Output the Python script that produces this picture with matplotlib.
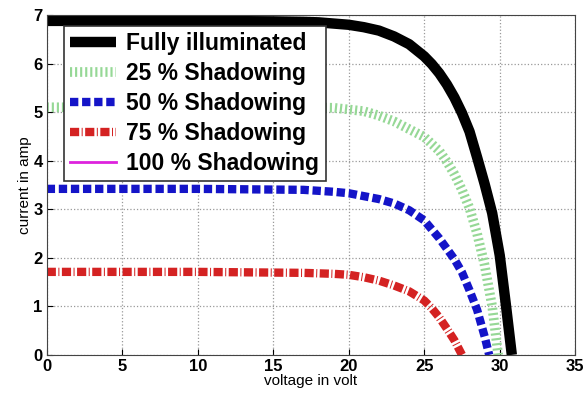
import matplotlib.pyplot as plt

plt.rcParams['font.family'] = ['Liberation Sans', 'DejaVu Sans']

# I-V curves
v_full = [0, 5, 10, 15, 17, 18, 20, 21, 22, 23, 24, 25, 25.5, 26, 26.5, 27, 27.5, 28, 28.5,
          29, 29.5, 30, 30.4, 30.8]
i_full = [6.88, 6.88, 6.88, 6.87, 6.86, 6.85, 6.8, 6.75, 6.68, 6.56, 6.4, 6.15, 5.99, 5.8,
          5.57, 5.3, 4.98, 4.6, 4.07, 3.52, 2.92, 2.05, 1.05, 0.0]

v_25 = [0, 10, 17, 19, 21, 22, 23, 24, 25, 26, 26.5, 27, 27.5, 28, 28.5, 29, 29.5, 29.9]
i_25 = [5.1, 5.1, 5.1, 5.09, 5.02, 4.93, 4.81, 4.65, 4.49, 4.2, 3.98, 3.72, 3.4, 3.02, 2.5,
        1.85, 1.0, 0.0]

v_50 = [0, 10, 17, 19, 20, 21, 22, 23, 24, 25, 26, 27, 27.5, 28, 28.5, 29, 29.3]
i_50 = [3.42, 3.42, 3.4, 3.36, 3.33, 3.27, 3.21, 3.12, 2.98, 2.77, 2.4, 1.97, 1.7, 1.33, 0.93,
        0.38, 0.0]

v_75 = [0, 10, 17, 19, 20, 21, 22, 23, 24, 25, 25.5, 26, 26.5, 27, 27.5]
i_75 = [1.71, 1.71, 1.69, 1.67, 1.65, 1.6, 1.53, 1.43, 1.31, 1.12, 0.96, 0.77, 0.54, 0.3, 0.0]

# 100 % shadowing gives no visible curve
v_100 = []
i_100 = []

fig, ax = plt.subplots(figsize=(5.84, 4.07), dpi=100)
fig.subplots_adjust(left=0.08, right=0.985, top=0.963, bottom=0.128)

ax.plot(v_full, i_full, color='black', lw=7.5, solid_capstyle='butt', label='Fully illuminated')
ax.plot(v_25, i_25, color='#96d896', lw=7, linestyle=(0, (0.22, 0.3)), dash_capstyle='butt',
        label='25 % Shadowing')
ax.plot(v_50, i_50, color='#1414c8', lw=6, linestyle=(0, (1, 0.45)), dash_capstyle='butt',
        label='50 % Shadowing')
ax.plot(v_75, i_75, color='#d42222', lw=6, linestyle=(0, (1.1, 0.3, 0.12, 0.3)), dash_capstyle='butt',
        label='75 % Shadowing')
ax.plot(v_100, i_100, color='#dd22dd', lw=2, label='100 % Shadowing')

ax.set_xlim(0, 35)
ax.set_ylim(0, 7)
ax.set_xticks(range(0, 36, 5))
ax.set_yticks(range(0, 8))
ax.tick_params(direction='in', length=4, labelsize=12, pad=3)
for lab in ax.get_xticklabels() + ax.get_yticklabels():
    lab.set_fontweight('bold')
ax.grid(True, linestyle=':', color='#999999', lw=0.9)
for s in ax.spines.values():
    s.set_color('#444444')

ax.set_xlabel('voltage in volt', fontsize=11, labelpad=0)
ax.set_ylabel('current in amp', fontsize=11, labelpad=1)

leg = ax.legend(loc='upper left', bbox_to_anchor=(0.028, 0.975), fancybox=False,
                edgecolor='#333333', framealpha=1, prop={'weight': 'bold', 'size': 16.5},
                handlelength=2.0, labelspacing=0.3, borderpad=0.28, handletextpad=0.45,
                borderaxespad=0.1)
leg.get_frame().set_linewidth(1.2)

fig.savefig('out.png')
